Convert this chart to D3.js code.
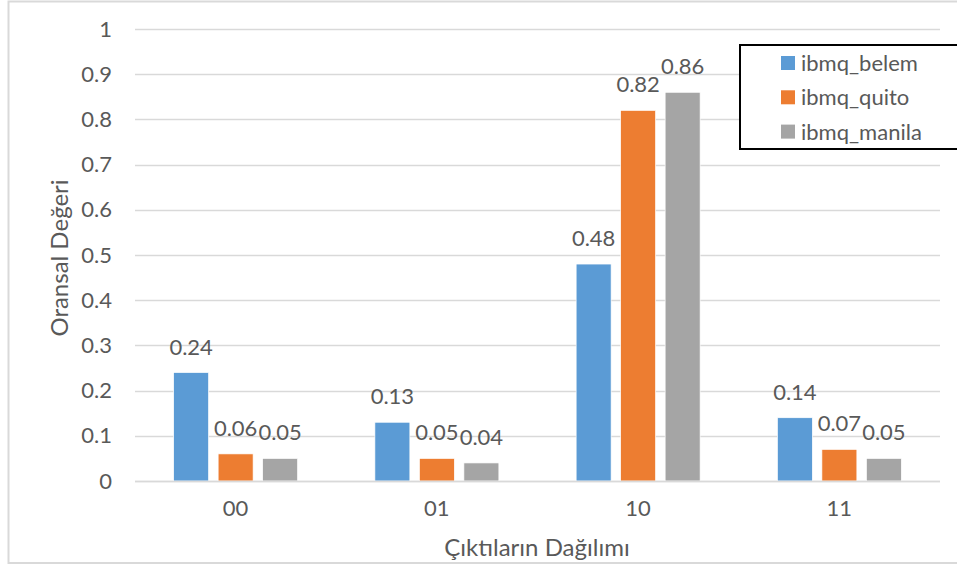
<!DOCTYPE html>
<html><head><meta charset="utf-8">
<script src="https://cdn.jsdelivr.net/npm/d3@7"></script>
<style>body{margin:0;background:#fff}svg{display:block}text{font-family:Lato,"Open Sans",sans-serif;fill:#595959}</style>
</head><body><svg id="c" width="957" height="567"></svg>
<script>
const categories = ["00","01","10","11"];
const seriesNames = ["ibmq_belem","ibmq_quito","ibmq_manila"];
const belem = [0.24,0.13,0.48,0.14];
const quito = [0.06,0.05,0.82,0.07];
const manila = [0.05,0.04,0.86,0.05];
const yTicks = [0,0.1,0.2,0.3,0.4,0.5,0.6,0.7,0.8,0.9,1];
const colors = ["#5B9BD5","#ED7D31","#A5A5A5"];
const series = [belem, quito, manila];

const svg = d3.select("#c");
// outer border
svg.append("rect").attr("x",8.5).attr("y",1.5).attr("width",960).attr("height",561.5)
  .attr("fill","none").attr("stroke","#d9d9d9").attr("stroke-width",2);

const pLeft=135, pRight=940, pTop=29, pBottom=481;
const x = d3.scaleBand().domain(categories).range([pLeft,pRight]);
const y = d3.scaleLinear().domain([0,1]).range([pBottom,pTop]);
const bw = 35, step = 44.5;

// gridlines
svg.append("g").selectAll("line").data(yTicks).join("line")
  .attr("x1",pLeft).attr("x2",pRight).attr("y1",d=>Math.round(y(d))+0.5).attr("y2",d=>Math.round(y(d))+0.5)
  .attr("stroke","#d9d9d9").attr("stroke-width",1.3);

// y axis labels
const ya = svg.append("g").attr("transform",`translate(${pLeft},0)`)
  .call(d3.axisLeft(y).tickValues(yTicks).tickFormat(d=>String(+d.toFixed(1))).tickSize(0).tickPadding(23));
ya.select(".domain").remove();
ya.selectAll("text").style("font-size","22px").attr("fill","#595959").style("font-family","Lato");

// x axis labels
const xa = svg.append("g").attr("transform",`translate(0,${pBottom})`)
  .call(d3.axisBottom(x).tickSize(0).tickPadding(19));
xa.select(".domain").remove();
xa.selectAll("text").style("font-size","22px").attr("fill","#595959").style("font-family","Lato");

// bars
series.forEach((vals,si)=>{
  const g = svg.append("g");
  g.selectAll("rect").data(vals).join("rect")
    .attr("x",(d,i)=>x(categories[i])+x.bandwidth()/2 + (si-1)*step - bw/2)
    .attr("y",d=>y(d)).attr("width",bw).attr("height",d=>y(0)-y(d))
    .attr("fill",colors[si]).attr("stroke","#fff").attr("stroke-width",0.7);
  g.selectAll("text").data(vals).join("text")
    .attr("x",(d,i)=>x(categories[i])+x.bandwidth()/2 + (si-1)*step)
    .attr("y",d=>y(d)-18).attr("text-anchor","middle")
    .style("font-size","22px").text(d=>d.toFixed(2));
});

// baseline
svg.append("line").attr("x1",pLeft).attr("x2",pRight).attr("y1",pBottom+0.5).attr("y2",pBottom+0.5)
  .attr("stroke","#d9d9d9").attr("stroke-width",1.3);

// axis titles
svg.append("text").attr("x",537).attr("y",556).attr("text-anchor","middle").style("font-size","24px").text("Çıktıların Dağılımı");
svg.append("text").attr("transform","translate(68,258) rotate(-90)").attr("text-anchor","middle").style("font-size","24px").text("Oransal Değeri");

// legend
svg.append("rect").attr("x",740).attr("y",45).attr("width",230).attr("height",104)
  .attr("fill","#fff").attr("stroke","#000").attr("stroke-width",2);
const lg = svg.append("g").selectAll("g").data(seriesNames).join("g")
  .attr("transform",(d,i)=>`translate(781,${63+i*34.3})`);
lg.append("rect").attr("x",0).attr("y",-7).attr("width",14).attr("height",14).attr("fill",(d,i)=>colors[i]);
lg.append("text").attr("x",20).attr("y",8).style("font-size","22px").text(d=>d);
</script></body></html>
